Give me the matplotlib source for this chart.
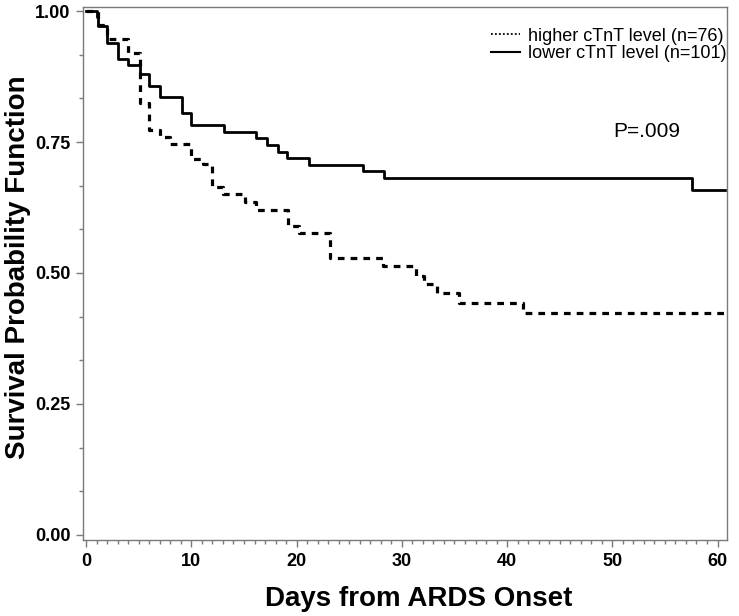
import matplotlib
matplotlib.use("Agg")
import matplotlib.pyplot as plt
from matplotlib.lines import Line2D
from matplotlib.ticker import MultipleLocator, FormatStrFormatter
from matplotlib.transforms import blended_transform_factory

plt.rcParams["font.family"] = ["Liberation Sans", "DejaVu Sans"]

# Kaplan-Meier steps (days, survival)
lower_days = [0, 1.0, 1.1, 2, 3, 4, 5.1, 6, 7, 9.1, 10, 13.1, 16.1, 17.2, 18.2,
              19.1, 21.2, 26.3, 28.3, 57.6, 60.7]
lower_surv = [1.0, 0.989, 0.971, 0.940, 0.908, 0.897, 0.880, 0.857, 0.837, 0.805,
              0.782, 0.770, 0.757, 0.744, 0.732, 0.719, 0.707, 0.695, 0.681, 0.658,
              0.658]

higher_days = [0, 1.1, 2, 4, 5.1, 6, 7, 8, 10, 11.1, 12, 13, 15.1, 16.1, 19.2,
               20.2, 23.2, 28.2, 31.3, 32.1, 33.3, 35.4, 41.5, 60.7]
higher_surv = [1.0, 0.973, 0.946, 0.920, 0.825, 0.773, 0.760, 0.746, 0.717, 0.708,
               0.664, 0.651, 0.636, 0.621, 0.590, 0.576, 0.528, 0.513, 0.494, 0.479,
               0.461, 0.443, 0.424, 0.424]

legend_labels = ["higher cTnT level (n=76)", "lower cTnT level (n=101)"]
p_text = "P=.009"

fig = plt.figure(figsize=(7.39, 6.16), dpi=100)
ax = fig.add_axes([83 / 739, 1 - 540 / 616, 644 / 739, 533 / 616])

ax.step(higher_days, higher_surv, where="post", color="black", lw=2.3,
        dashes=[2.1, 1.9])
ax.step(lower_days, lower_surv, where="post", color="black", lw=2.0)

ax.set_xlim(-0.3, 60.9)
ax.set_ylim(-0.01, 1.008)
ax.xaxis.set_major_locator(MultipleLocator(10))
ax.xaxis.set_minor_locator(MultipleLocator(1))
ax.yaxis.set_major_locator(MultipleLocator(0.25))
ax.yaxis.set_minor_locator(MultipleLocator(0.25 / 3))
ax.yaxis.set_major_formatter(FormatStrFormatter("%.2f"))

for s in ax.spines.values():
    s.set_color("#7a7a7a")
    s.set_linewidth(1.0)
ax.tick_params(which="both", direction="out", color="#7a7a7a", width=1.0)
ax.tick_params(which="major", length=5, labelsize=13, pad=4)
ax.tick_params(which="minor", length=3)
for lab in ax.get_xticklabels() + ax.get_yticklabels():
    lab.set_fontweight("bold")

ax.set_xlabel("Days from ARDS Onset", fontsize=20, fontweight="bold", va="center")
ax.xaxis.set_label_coords(0.522, -0.111)
ax.set_ylabel("Survival Probability Function", fontsize=20, fontweight="bold",
              va="center")
ax.yaxis.set_label_coords(-0.101, 0.512)

handles = [Line2D([], [], color="black", lw=1.3, linestyle=(0, (1, 1.2))),
           Line2D([], [], color="black", lw=1.5)]
ax.legend(handles, legend_labels, loc="upper right", frameon=False, fontsize=13,
          handlelength=1.65, handletextpad=0.4, labelspacing=0.05,
          borderaxespad=0.0, bbox_to_anchor=(1.01, 0.975))

ax.text(613 / 739, 0.771, p_text, fontsize=15, va="center",
        transform=blended_transform_factory(fig.transFigure, ax.transData))

fig.savefig("out.png", dpi=100)
